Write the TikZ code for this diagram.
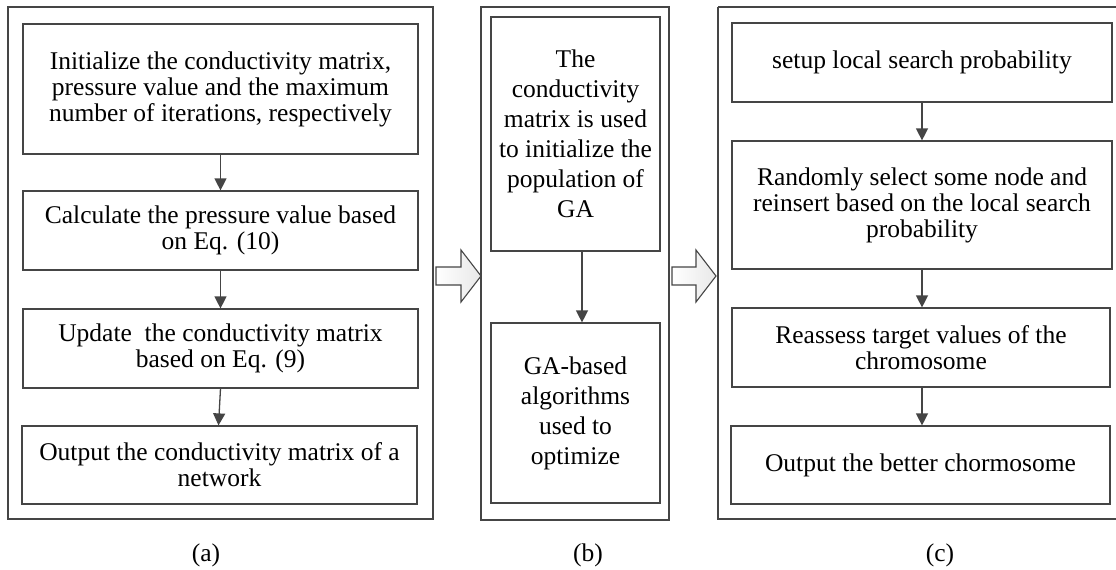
\documentclass[tikz,border=0pt]{standalone}
\usepackage{fontspec}
\setmainfont{Liberation Serif}
\usetikzlibrary{arrows.meta}
\definecolor{linegray}{HTML}{454545}

\begin{document}
\begin{tikzpicture}[x=1pt,y=-1pt,
  frame/.style={draw=linegray, line width=1.2pt, inner sep=0pt},
  stepbox/.style={draw=linegray, line width=1.2pt, align=center, inner sep=0pt,
    font=\fontsize{25.5}{26}\selectfont},
  tallbox/.style={stepbox, font=\fontsize{25.5}{30}\selectfont},
  flow/.style={draw=linegray, line width=1.3pt, -{Triangle[length=12pt,width=12pt]}},
  bigarrow/.style={draw=linegray, line width=1.1pt, left color=white, right color=gray!18},
  caption/.style={font=\fontsize{25.5}{26}\selectfont}
]
\useasboundingbox (0,0) rectangle (1116,570);

% ---------------- panel (a): physarum conductivity model
\node[frame, minimum width=425pt, minimum height=512pt] (pa) at (220.5,263) {};
\node[stepbox, minimum width=395pt, minimum height=130pt] (a1) at (220.5,89)
  {Initialize the conductivity matrix,\\pressure value and the maximum\\number of iterations, respectively};
\node[stepbox, minimum width=395pt, minimum height=79pt] (a2) at (220.5,230.5)
  {Calculate the pressure value based\\on Eq. (10)};
\node[stepbox, minimum width=395pt, minimum height=79pt] (a3) at (220.5,348.5)
  {Update\ \ the conductivity matrix\\based on Eq. (9)};
\node[stepbox, minimum width=395pt, minimum height=78pt] (a4) at (219.5,465)
  {Output the conductivity matrix of a\\network};
\draw[flow] (a1) -- (a2);
\draw[flow] (a2) -- (a3);
\draw[flow] (a3.south) -- ([xshift=-1pt]a4.north);
\node[caption] (la) at (206,555) {(a)};

% ---------------- panel (b): genetic algorithm
\node[frame, minimum width=188pt, minimum height=513pt] (pb) at (575,263.5) {};
\node[tallbox, minimum width=169pt, minimum height=234pt] (b1) at (575.5,134)
  {The\\conductivity\\matrix is used\\to initialize the\\population of\\GA};
\node[tallbox, minimum width=169pt, minimum height=180pt] (b2) at (575.5,413)
  {GA-based\\algorithms\\used to\\optimize};
\draw[flow] ([xshift=6.5pt]b1.south) -- ([xshift=6.5pt]b2.north);
\node[caption] (lb) at (588,555) {(b)};

% ---------------- panel (c): local search
\draw[frame] (718,7) -- (1125,7) (718,7) -- (718,519) -- (1125,519);
\node[stepbox, minimum width=380pt, minimum height=79pt] (c1) at (922,62.5)
  {setup local search probability};
\node[stepbox, minimum width=380pt, minimum height=128pt] (c2) at (922,205)
  {Randomly select some node and\\reinsert based on the local search\\probability};
\node[stepbox, minimum width=378pt, minimum height=79pt] (c3) at (921,347.5)
  {Reassess target values of the\\chromosome};
\node[stepbox, minimum width=379pt, minimum height=78pt] (c4) at (920.5,465)
  {Output the better chormosome};
\draw[flow] (c1) -- (c2);
\draw[flow] (c2) -- ([xshift=1pt]c3.north);
\draw[flow] ([xshift=1pt]c3.south) -- ([xshift=1.5pt]c4.north);
\node[caption] (lc) at (940,555) {(c)};

% ---------------- block arrows between the panels
\draw[bigarrow] (436,267) -- (461,267) -- (461,250) -- (481,276)
  -- (461,302) -- (461,285) -- (436,285) -- cycle;
\draw[bigarrow] (672,267) -- (696,267) -- (696,250) -- (716,276)
  -- (696,302) -- (696,285) -- (672,285) -- cycle;
\end{tikzpicture}
\end{document}
